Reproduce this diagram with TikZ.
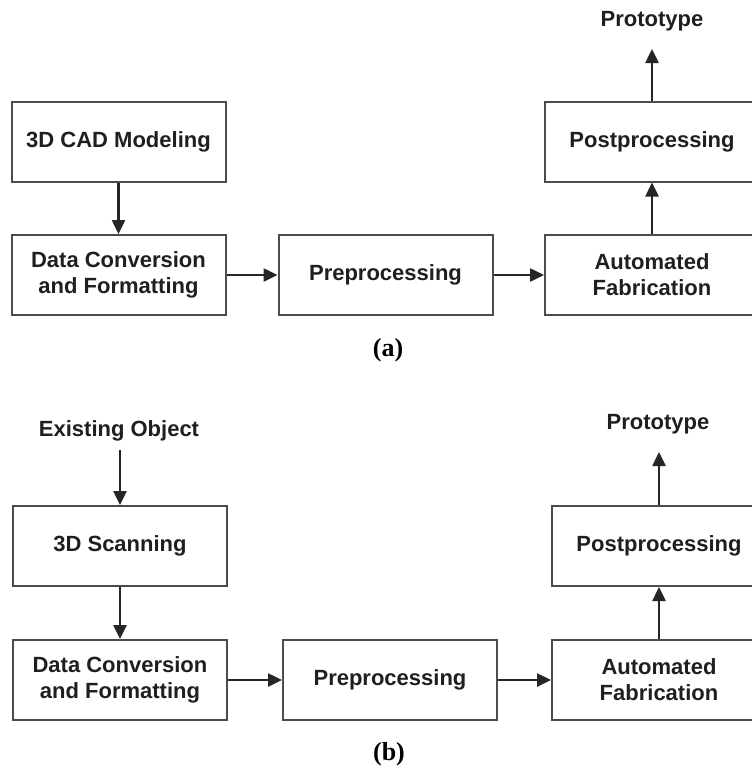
\documentclass[tikz,border=0pt]{standalone}
\usepackage{fontspec}
\setmainfont{Liberation Sans}
\newfontfamily\capfont{Liberation Serif}
\usetikzlibrary{arrows.meta}
\begin{document}
\begin{tikzpicture}[x=1pt,y=-1pt,
  box/.style={draw=black!70,line width=2pt,minimum width=214pt,minimum height=80pt,
    inner sep=0pt,align=center,font=\fontsize{22}{26}\selectfont\bfseries,text=black!88},
  plain/.style={inner sep=0pt,font=\fontsize{22}{26}\selectfont\bfseries,text=black!88},
  sublabel/.style={inner sep=0pt,font=\fontsize{26}{28}\selectfont\capfont\bfseries},
  arr/.style={draw=black!85,line width=2.5pt,-{Triangle[length=14pt,width=13pt]}}]
\clip (0,0) rectangle (752,771);
% (a)
\node[box] (cad) at (118.5,141.5) {3D CAD Modeling};
\node[box] (dca) at (118.5,275) {Data Conversion\\and Formatting};
\node[box] (ppa) at (385.5,275) {Preprocessing};
\node[box] (afa) at (652,275) {Automated\\Fabrication};
\node[box] (poa) at (652,141.5) {Postprocessing};
\node[plain] (pta) at (652,21) {Prototype};
\coordinate (pta-end) at (652,49);
\node[sublabel] (la) at (388,350) {(a)};
\draw[arr] (cad) -- (dca);
\draw[arr] (dca) -- (ppa);
\draw[arr] (ppa) -- (afa);
\draw[arr] (afa) -- (poa);
\draw[arr] (poa) -- (pta-end);
% (b)
\node[plain] (eo) at (119,431) {Existing Object};
\node[box] (sc) at (120,546) {3D Scanning};
\node[box] (dcb) at (120,680) {Data Conversion\\and Formatting};
\node[box] (ppb) at (390,680) {Preprocessing};
\node[box] (afb) at (659,680) {Automated\\Fabrication};
\node[box] (pob) at (659,546) {Postprocessing};
\node[plain] (ptb) at (658,424) {Prototype};
\coordinate (eo-start) at (120,450);
\coordinate (ptb-end) at (659,452);
\node[sublabel] (lb) at (389,754) {(b)};
\draw[arr] (eo-start) -- (sc);
\draw[arr] (sc) -- (dcb);
\draw[arr] (dcb) -- (ppb);
\draw[arr] (ppb) -- (afb);
\draw[arr] (afb) -- (pob);
\draw[arr] (pob) -- (ptb-end);
\end{tikzpicture}
\end{document}
